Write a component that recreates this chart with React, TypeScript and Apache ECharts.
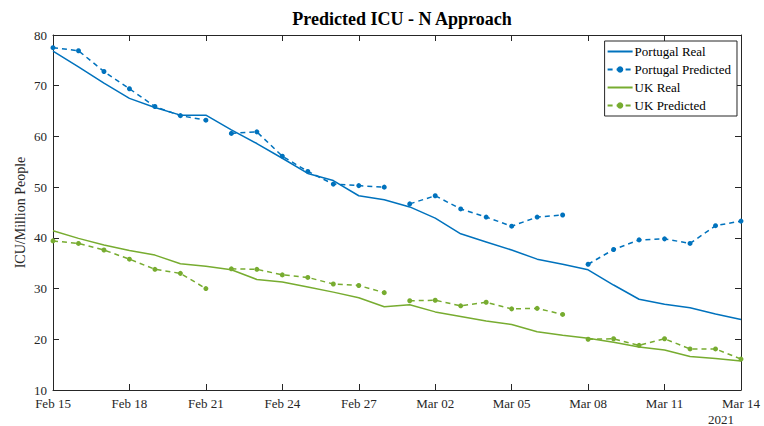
import React, { useEffect, useRef } from "react";
import * as echarts from "echarts";

const categories = [
  "Feb 15", "Feb 16", "Feb 17", "Feb 18", "Feb 19", "Feb 20", "Feb 21",
  "Feb 22", "Feb 23", "Feb 24", "Feb 25", "Feb 26", "Feb 27", "Feb 28",
  "Mar 01", "Mar 02", "Mar 03", "Mar 04", "Mar 05", "Mar 06", "Mar 07",
  "Mar 08", "Mar 09", "Mar 10", "Mar 11", "Mar 12", "Mar 13", "Mar 14",
];

const portugalReal = [
  76.8, 73.7, 70.5, 67.5, 65.7, 64.2, 64.2, 61.3, 58.6, 55.7, 52.7, 51.3, 48.3, 47.5,
  46.1, 43.9, 40.8, 39.2, 37.6, 35.8, 34.8, 33.7, 30.7, 27.9, 26.9, 26.2, 25.0, 23.9,
];
const portugalPredicted = [
  77.5, 76.9, 72.8, 69.4, 65.9, 64.1, 63.2, 60.6, 60.9, 56.1, 53.1, 50.6, 50.3, 50.0,
  46.7, 48.3, 45.7, 44.1, 42.3, 44.1, 44.5, 34.8, 37.7, 39.6, 39.8, 38.9, 42.4, 43.3,
];
const ukReal = [
  41.4, 39.9, 38.6, 37.5, 36.6, 34.9, 34.4, 33.7, 31.8, 31.3, 30.3, 29.3, 28.2, 26.4,
  26.8, 25.4, 24.5, 23.6, 22.9, 21.5, 20.8, 20.2, 19.4, 18.5, 17.9, 16.6, 16.2, 15.7,
];
const ukPredicted = [
  39.4, 38.9, 37.6, 35.8, 33.8, 33.0, 30.0, 33.9, 33.8, 32.7, 32.2, 30.9, 30.6, 29.2,
  27.6, 27.7, 26.6, 27.3, 26.0, 26.1, 24.9, 20.0, 20.1, 18.8, 20.1, 18.1, 18.1, 16.1,
];
const predictionWindow = 7;

const BLUE = "#0072BD";
const GREEN = "#77AC30";
const FONT = "Liberation Serif";

function predictedSeries(name: string, values: number[], color: string) {
  const out: any[] = [];
  for (let s = 0; s < values.length; s += predictionWindow) {
    out.push({
      name,
      type: "line",
      data: values.map((v, i) => (i >= s && i < s + predictionWindow ? v : null)),
      connectNulls: false,
      symbol: "circle",
      symbolSize: 5,
      showSymbol: true,
      lineStyle: { color, width: 1.5, type: [5, 4] },
      itemStyle: { color },
    });
  }
  return out;
}

export default function App() {
  const ref = useRef<HTMLDivElement>(null);
  useEffect(() => {
    if (!ref.current) return;
    const chart = echarts.init(ref.current, undefined, { renderer: "svg" });
    const axisLine = { show: true, lineStyle: { color: "#262626", width: 1 } };
    chart.setOption({
      animation: false,
      backgroundColor: "#ffffff",
      textStyle: { fontFamily: FONT },
      title: {
        text: "Predicted ICU - N Approach",
        left: 397,
        top: 5,
        textAlign: "center",
        textStyle: { fontFamily: FONT, fontSize: 18, fontWeight: "bold", color: "#000" },
      },
      grid: { left: 53, right: 23, top: 35, bottom: 36 },
      legend: {
        orient: "vertical",
        right: 27,
        top: 41,
        itemWidth: 25,
        itemHeight: 8,
        itemGap: 5,
        padding: [4, 6, 4, 2],
        borderColor: "#262626",
        borderWidth: 1,
        backgroundColor: "#fff",
        borderRadius: 0,
        textStyle: { fontFamily: FONT, fontSize: 13, color: "#000", padding: [0, 0, 0, -3] },
        data: [
          { name: "Portugal Real", itemStyle: { opacity: 0 } },
          { name: "Portugal Predicted" },
          { name: "UK Real", itemStyle: { opacity: 0 } },
          { name: "UK Predicted" },
        ],
      },
      xAxis: [
        {
          type: "category",
          data: categories,
          boundaryGap: false,
          axisLine,
          axisTick: { show: true, inside: true, interval: 2, length: 6, lineStyle: { color: "#262626" } },
          axisLabel: { interval: 2, fontFamily: FONT, fontSize: 13, color: "#262626", margin: 7 },
          splitLine: { show: false },
        },
        {
          type: "category",
          data: categories,
          boundaryGap: false,
          position: "top",
          axisLine,
          axisTick: { show: true, inside: true, interval: 2, length: 6, lineStyle: { color: "#262626" } },
          axisLabel: { show: false },
          splitLine: { show: false },
        },
      ],
      yAxis: [
        {
          type: "value",
          min: 10,
          max: 80,
          interval: 10,
          name: "ICU/Million People",
          nameLocation: "middle",
          nameGap: 26,
          nameMoveOverlap: false,
          nameTextStyle: { fontFamily: FONT, fontSize: 14, color: "#262626" },
          axisLine,
          axisTick: { show: true, inside: true, length: 6, lineStyle: { color: "#262626" } },
          axisLabel: { fontFamily: FONT, fontSize: 13, color: "#262626", margin: 6 },
          splitLine: { show: false },
        },
        {
          type: "value",
          min: 10,
          max: 80,
          interval: 10,
          position: "right",
          axisLine,
          axisTick: { show: true, inside: true, length: 6, lineStyle: { color: "#262626" } },
          axisLabel: { show: false },
          splitLine: { show: false },
        },
      ],
      series: [
        {
          name: "Portugal Real",
          type: "line",
          data: portugalReal,
          symbol: "none",
          lineStyle: { color: BLUE, width: 1.5 },
          itemStyle: { color: BLUE },
        },
        ...predictedSeries("Portugal Predicted", portugalPredicted, BLUE),
        {
          name: "UK Real",
          type: "line",
          data: ukReal,
          symbol: "none",
          lineStyle: { color: GREEN, width: 1.5 },
          itemStyle: { color: GREEN },
        },
        ...predictedSeries("UK Predicted", ukPredicted, GREEN),
      ],
      graphic: [
        {
          type: "text",
          left: 708,
          top: 413,
          style: { text: "2021", font: `13px '${FONT}'`, fill: "#262626" },
        },
      ],
    });
    return () => chart.dispose();
  }, []);
  return (
    <div
      ref={ref}
      style={{ position: "fixed", left: 0, top: 0, width: 764, height: 426 }}
    />
  );
}
